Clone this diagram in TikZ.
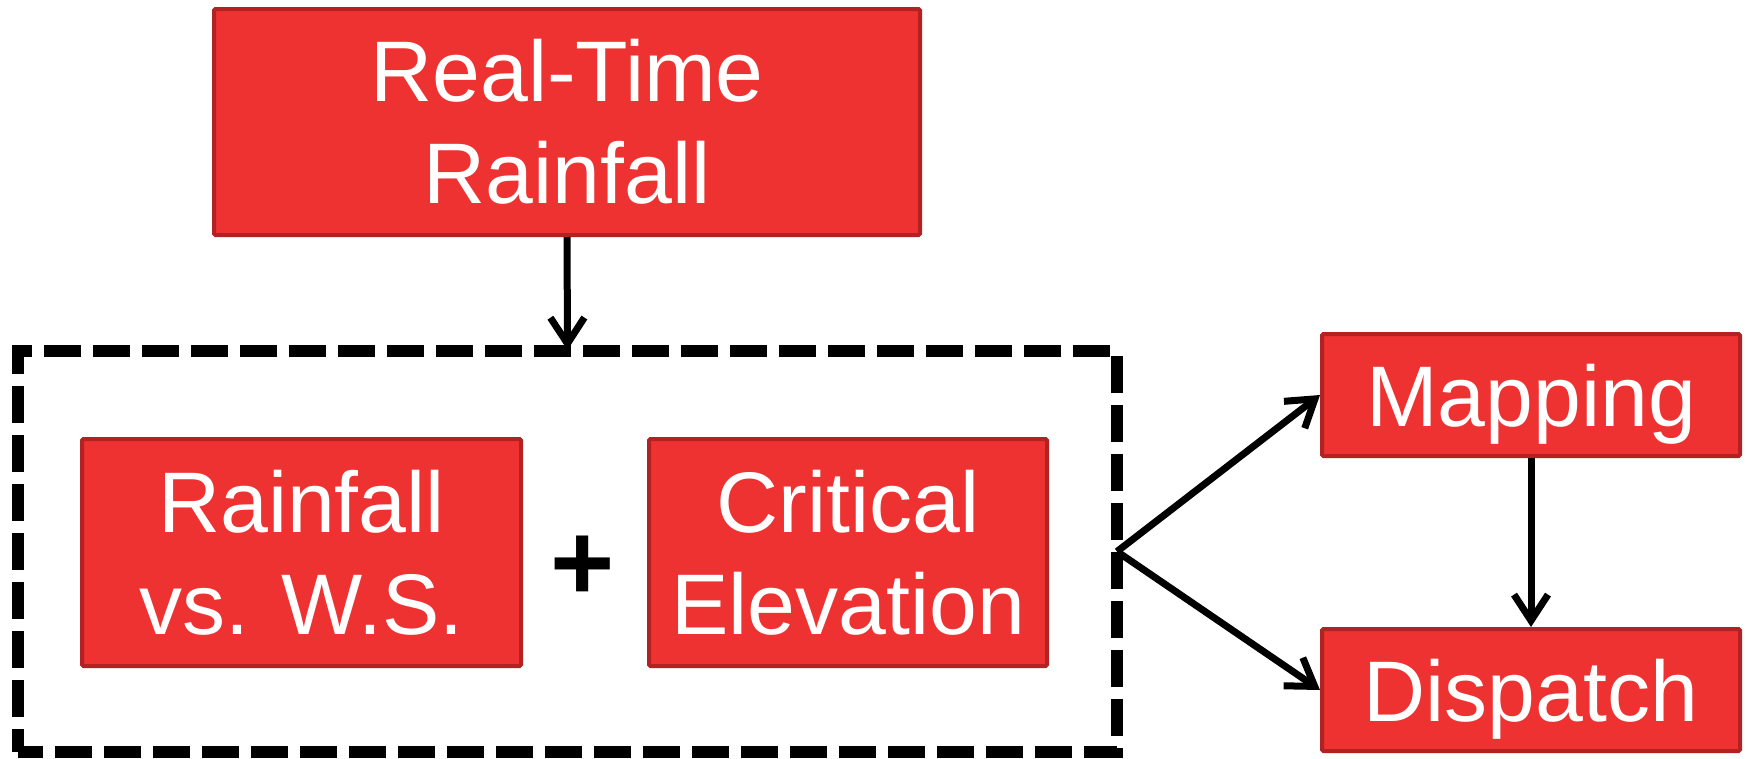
\documentclass[tikz,border=0pt]{standalone}
\usepackage{fontspec}
\setmainfont{Liberation Sans}
\usetikzlibrary{arrows.meta}
\definecolor{boxfill}{RGB}{238,50,50}
\definecolor{boxline}{RGB}{178,34,34}
\begin{document}
\begin{tikzpicture}[x=1pt,y=-1pt,
  box/.style={draw=boxline, fill=boxfill, line width=4pt, text=white, align=center,
    inner sep=0pt, font=\fontsize{86}{102}\selectfont, rounded corners=1.5pt},
  oneline/.style={text height=62pt, text depth=0pt},
  grpbox/.style={draw=black, line width=12pt, dash pattern=on 37pt off 12pt, dash phase=12pt,
    inner sep=0pt, minimum width=1099pt, minimum height=401pt},
  conn/.style={draw=black, line width=7pt, -{Straight Barb[length=26pt,width=34pt]}},
  plussign/.style={inner sep=0pt, font=\fontsize{110}{110}\selectfont\bfseries}]
\useasboundingbox (0,0) rectangle (1748,758);
\node[grpbox] (grp) at (567.5,551.5) {};
\node[box, minimum width=706pt, minimum height=226pt] (rt) at (567,122) {Real-Time\\Rainfall};
\node[box, minimum width=439pt, minimum height=227pt] (rw) at (301.5,552.5) {Rainfall\\vs. W.S.};
\node[box, minimum width=398pt, minimum height=227pt] (ce) at (848,552.5) {Critical\\Elevation};
\node[box, oneline, minimum width=418pt, minimum height=122pt] (map) at (1531,395) {Mapping};
\node[box, oneline, minimum width=418pt, minimum height=122pt] (disp) at (1531,690) {Dispatch};
\node[plussign] (plus) at (583,568) {+};
\coordinate (fork) at ([xshift=-6pt]grp.east);
\draw[conn, shorten >=-5pt] (rt.south) -- (grp.north);
\draw[conn] (fork) -- (map.west);
\draw[conn] (fork) -- (disp.west);
\draw[conn] (map.south) -- (disp.north);
\end{tikzpicture}
\end{document}
